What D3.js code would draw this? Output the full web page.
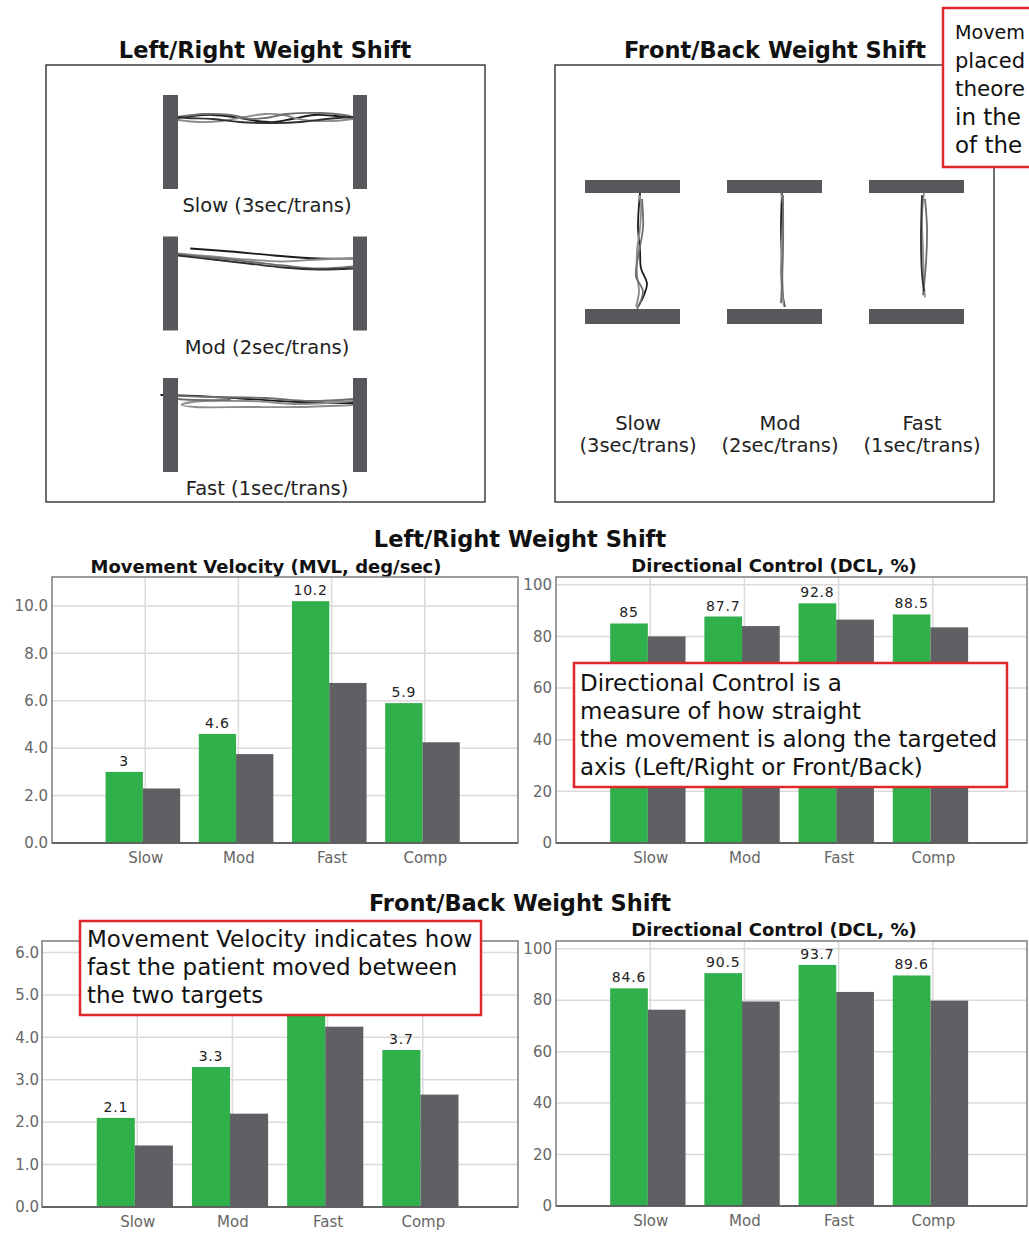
<!DOCTYPE html>
<html><head><meta charset="utf-8">
<script src="https://cdn.jsdelivr.net/npm/d3@7"></script>
<style>
html,body{margin:0;padding:0;background:#fff;}
svg{display:block;font-family:"DejaVu Sans",Verdana,sans-serif;}
</style></head><body>
<svg id="c" width="1029" height="1236"></svg>
<script>
// ---------- data ----------
const categories = ["Slow", "Mod", "Fast", "Comp"];
const lrMVL    = [3, 4.6, 10.2, 5.9];
const lrMVLRef = [2.3, 3.75, 6.75, 4.25];
const lrDCL    = [85, 87.7, 92.8, 88.5];
const lrDCLRef = [80, 84, 86.5, 83.5];
const fbMVL    = [2.1, 3.3, 5.7, 3.7];
const fbMVLRef = [1.45, 2.2, 4.25, 2.65];
const fbDCL    = [84.6, 90.5, 93.7, 89.6];
const fbDCLRef = [76.3, 79.5, 83.2, 79.8];
const mvlTicksLR = [0, 2, 4, 6, 8, 10];
const mvlTicksFB = [0, 1, 2, 3, 4, 5, 6];
const dclTicks = [0, 20, 40, 60, 80, 100];
const speedNames = ["Slow", "Mod", "Fast"];
const speedRates = ["(3sec/trans)", "(2sec/trans)", "(1sec/trans)"];
// centre-of-pressure traces: [progress between targets, sideways sway]
const lrTraces = [
  [ [[0,0],[0.08,-2],[0.2,-3],[0.32,-1],[0.45,3],[0.55,4],[0.65,1],[0.78,-3],[0.9,-2],[1,0]],
    [[1,1],[0.88,3],[0.72,2],[0.6,-3],[0.5,-4],[0.38,-1],[0.25,3],[0.12,4],[0,2]],
    [[0,-1],[0.15,-4],[0.3,-3],[0.42,1],[0.5,0],[0.62,-4],[0.82,-5],[0.95,-3],[1,-1]],
    [[1,-1],[0.85,1],[0.7,4],[0.55,5],[0.35,4],[0.2,1],[0.05,0],[0,-1]] ],
  [ [[0.07,-11],[0.3,-8],[0.55,-4],[0.8,-1],[1,-1]],
    [[0,-6],[0.2,-3],[0.4,0],[0.6,2],[0.8,0],[1,-1]],
    [[0,-5],[0.25,-1],[0.45,3],[0.6,6],[0.8,9],[1,7]],
    [[1,9],[0.8,10],[0.6,8],[0.4,4],[0.2,0],[0,-4]] ],
  [ [[-0.1,-6],[0.1,-5],[0.4,-2],[0.7,1],[1,2]],
    [[1,4],[0.7,6],[0.4,6],[0.1,6],[0.02,4],[0.08,1],[0.4,0],[0.7,3],[1,0]],
    [[1,-2],[0.75,0],[0.5,-3],[0.2,-4],[-0.08,-5],[0,-2],[0.3,-1]] ]
];
const fbTraces = [
  [ [[0,0],[0.1,-1],[0.3,-2],[0.5,0],[0.65,1],[0.78,7],[0.88,4],[0.98,-2]],
    [[0.98,-4],[0.85,-1],[0.7,-3],[0.5,-3],[0.3,0],[0.1,1],[0.02,-1]],
    [[0.05,2],[0.3,3],[0.55,-2],[0.72,-4],[0.85,3],[1,-3]] ],
  [ [[0,0],[0.3,-1],[0.6,0],[0.9,1],[0.98,3]],
    [[0.98,2],[0.7,-1],[0.4,0],[0.1,1],[0,-1]],
    [[0.02,1],[0.5,1],[0.95,-1]] ],
  [ [[0,0],[0.2,-2],[0.5,-1],[0.8,0],[0.9,1]],
    [[0.88,-1],[0.6,2],[0.3,3],[0.05,1]],
    [[0.02,-2],[0.4,-3],[0.7,-2],[0.85,0]] ]
];
const noteTop = ["Movem", "placed", "theore", "in the", "of the"];
const noteDCL = ["Directional Control is a", "measure of how straight", "the movement is along the targeted", "axis (Left/Right or Front/Back)"];
const noteMVL = ["Movement Velocity indicates how", "fast the patient moved between", "the two targets"];

// ---------- styles ----------
const GREEN = "#2fb04a", GRAY = "#5f6064", TARGET = "#58585c", RED = "#e0282c";
const traceCols = ["#1c1c1c", "#8c8c8c", "#6e6e6e", "#303030"];
const svg = d3.select("#c");

function title(x, y, t, size) {
  svg.append("text").attr("x", x).attr("y", y).attr("text-anchor", "middle")
    .attr("font-weight", "bold").attr("font-size", size).attr("fill", "#111").text(t);
}

// ---------- top panels ----------
title(265, 58, "Left/Right Weight Shift", 22.5);
title(775, 58, "Front/Back Weight Shift", 22.5);
svg.append("rect").attr("x", 46).attr("y", 65).attr("width", 439).attr("height", 437)
  .attr("fill", "none").attr("stroke", "#222").attr("stroke-width", 1.3);
svg.append("rect").attr("x", 555).attr("y", 65).attr("width", 439).attr("height", 437)
  .attr("fill", "none").attr("stroke", "#222").attr("stroke-width", 1.3);

// Left/Right panel
const rowTop = d3.scaleLinear().domain([0, 2]).range([95, 378]);
const lrU = d3.scaleLinear().domain([0, 1]).range([178, 353]);
const sway = d3.scaleLinear().domain([-10, 10]).range([-10, 10]);
speedNames.forEach((s, i) => {
  const top = rowTop(i);
  const g = svg.append("g");
  const cy = top + 23;
  lrTraces[i].forEach((p, k) => {
    g.append("path").attr("d", d3.line().x(d => lrU(d[0])).y(d => cy + sway(d[1])).curve(d3.curveCatmullRom)(p))
      .attr("fill", "none").attr("stroke", traceCols[k % 4]).attr("stroke-width", 1.8);
  });
  g.append("rect").attr("x", lrU(0) - 15).attr("y", top).attr("width", 15).attr("height", 94).attr("fill", TARGET);
  g.append("rect").attr("x", lrU(1)).attr("y", top).attr("width", 14).attr("height", 94).attr("fill", TARGET);
  g.append("text").attr("x", 267).attr("y", top + 117).attr("text-anchor", "middle")
    .attr("font-size", 19.5).attr("fill", "#222").text(s + " " + speedRates[i]);
});

// Front/Back panel
const colLeft = d3.scaleLinear().domain([0, 2]).range([585, 869]);
const fbU = d3.scaleLinear().domain([0, 1]).range([193, 309]);
speedNames.forEach((s, i) => {
  const x0 = colLeft(i);
  const cx = x0 + 55;
  const g = svg.append("g");
  fbTraces[i].forEach((p, k) => {
    g.append("path").attr("d", d3.line().x(d => cx + sway(d[1])).y(d => fbU(d[0])).curve(d3.curveCatmullRom)(p))
      .attr("fill", "none").attr("stroke", i === 2 ? traceCols[(k + 1) % 4] : traceCols[k % 4]).attr("stroke-width", 1.8);
  });
  g.append("rect").attr("x", x0).attr("y", fbU(0) - 13).attr("width", 95).attr("height", 13).attr("fill", TARGET);
  g.append("rect").attr("x", x0).attr("y", fbU(1)).attr("width", 95).attr("height", 15).attr("fill", TARGET);
  g.append("text").attr("x", x0 + 53).attr("y", 430).attr("text-anchor", "middle")
    .attr("font-size", 19.5).attr("fill", "#222").text(s);
  g.append("text").attr("x", x0 + 53).attr("y", 452).attr("text-anchor", "middle")
    .attr("font-size", 19.5).attr("fill", "#222").text(speedRates[i]);
});

// ---------- bar charts ----------
function barChart(o) {
  const g = svg.append("g");
  const x = d3.scaleLinear().domain([0, 5]).range([o.left, o.right]);
  const y = d3.scaleLinear().domain([0, o.ymax]).range([o.bottom, o.top]);
  g.selectAll(".hg").data(o.ticks).join("line")
    .attr("x1", o.left).attr("x2", o.right).attr("y1", d => y(d)).attr("y2", d => y(d))
    .attr("stroke", "#dadada").attr("stroke-width", 1.5);
  g.selectAll(".vg").data(categories).join("line")
    .attr("x1", (d, i) => x(i + 1)).attr("x2", (d, i) => x(i + 1)).attr("y1", o.top).attr("y2", o.bottom)
    .attr("stroke", "#dadada").attr("stroke-width", 1.5);
  g.selectAll(".gb").data(o.green).join("rect")
    .attr("x", (d, i) => x(i + 1 - 0.425)).attr("width", (d, i) => x(i + 1 - 0.025) - x(i + 1 - 0.425))
    .attr("y", d => y(d)).attr("height", d => o.bottom - y(d)).attr("fill", GREEN);
  g.selectAll(".rb").data(o.gray).join("rect")
    .attr("x", (d, i) => x(i + 1 - 0.025)).attr("width", (d, i) => x(i + 1 + 0.375) - x(i + 1 - 0.025))
    .attr("y", d => y(d)).attr("height", d => o.bottom - y(d)).attr("fill", GRAY);
  // value labels (those lying under an annotation box are hidden, as in the source)
  const shown = o.green.map((d, i) => ({d, i})).filter(e => !(o.hidden || []).includes(e.i));
  g.selectAll(".vl").data(shown).join("text")
    .attr("x", e => x(e.i + 1 - 0.225)).attr("y", e => y(e.d) - 6).attr("text-anchor", "middle")
    .attr("font-size", 14).attr("letter-spacing", 0.8).attr("fill", "#222").text(e => String(e.d));
  const ya = g.append("g").attr("transform", `translate(${o.left},0)`)
    .call(d3.axisLeft(y).tickValues(o.ticks).tickFormat(o.fmt).tickSize(0).tickPadding(o.pad));
  ya.select(".domain").remove();
  ya.selectAll("text").attr("font-size", 15).attr("fill", "#666").attr("font-family", "DejaVu Sans");
  const xa = g.append("g").attr("transform", `translate(0,${o.bottom})`)
    .call(d3.axisBottom(x).tickValues([1, 2, 3, 4]).tickFormat(d => categories[d - 1]).tickSize(0).tickPadding(9));
  xa.select(".domain").remove();
  xa.selectAll("text").attr("font-size", 15).attr("fill", "#666").attr("font-family", "DejaVu Sans");
  g.append("rect").attr("x", o.left).attr("y", o.top).attr("width", o.right - o.left).attr("height", o.bottom - o.top)
    .attr("fill", "none").attr("stroke", "#7d7d7d").attr("stroke-width", 1.5);
  g.append("line").attr("x1", o.left).attr("x2", o.right).attr("y1", o.bottom).attr("y2", o.bottom)
    .attr("stroke", "#555").attr("stroke-width", 1.5);
}

title(520, 547, "Left/Right Weight Shift", 22.5);
title(266, 573, "Movement Velocity (MVL, deg/sec)", 18);
title(774, 572, "Directional Control (DCL, %)", 18);
barChart({left: 52, right: 518, top: 577, bottom: 843, ymax: d3.max(lrMVL) * 1.1, ticks: mvlTicksLR,
  fmt: d3.format(".1f"), green: lrMVL, gray: lrMVLRef, pad: 4});
barChart({left: 556, right: 1027, top: 577, bottom: 843, ymax: 103, ticks: dclTicks,
  fmt: d3.format("d"), green: lrDCL, gray: lrDCLRef, pad: 4});

title(520, 911, "Front/Back Weight Shift", 22.5);
title(774, 936, "Directional Control (DCL, %)", 18);
barChart({left: 42, right: 518, top: 941, bottom: 1207, ymax: d3.max(fbMVL) * 1.1, ticks: mvlTicksFB,
  fmt: d3.format(".1f"), green: fbMVL, gray: fbMVLRef, pad: 3, hidden: [2]});
barChart({left: 556, right: 1027, top: 941, bottom: 1206, ymax: 103, ticks: dclTicks,
  fmt: d3.format("d"), green: fbDCL, gray: fbDCLRef, pad: 4});

// ---------- annotation boxes ----------
function note(x, y, w, h, lines, tx, ty, lh, maxRight) {
  const g = svg.append("g");
  g.append("rect").attr("x", x).attr("y", y).attr("width", w).attr("height", h)
    .attr("fill", "#fff").attr("stroke", RED).attr("stroke-width", 2.5);
  g.selectAll("text").data(lines).join("text")
    .attr("x", tx).attr("y", (d, i) => ty + i * lh).attr("font-size", 23).attr("fill", "#111").text(d => d)
    .each(function () {
      if (maxRight) {
        const w = this.getComputedTextLength();
        if (tx + w > maxRight) {
          d3.select(this).attr("font-size", 23 * (maxRight - tx) / w);
        }
      }
    });
}
note(943, 8, 100, 159, noteTop, 955, 39, 28.5, 1025);
note(574, 663, 433, 124, noteDCL, 580, 691, 28);
note(80, 921, 401, 94, noteMVL, 87, 947, 28);
</script>
</body></html>
